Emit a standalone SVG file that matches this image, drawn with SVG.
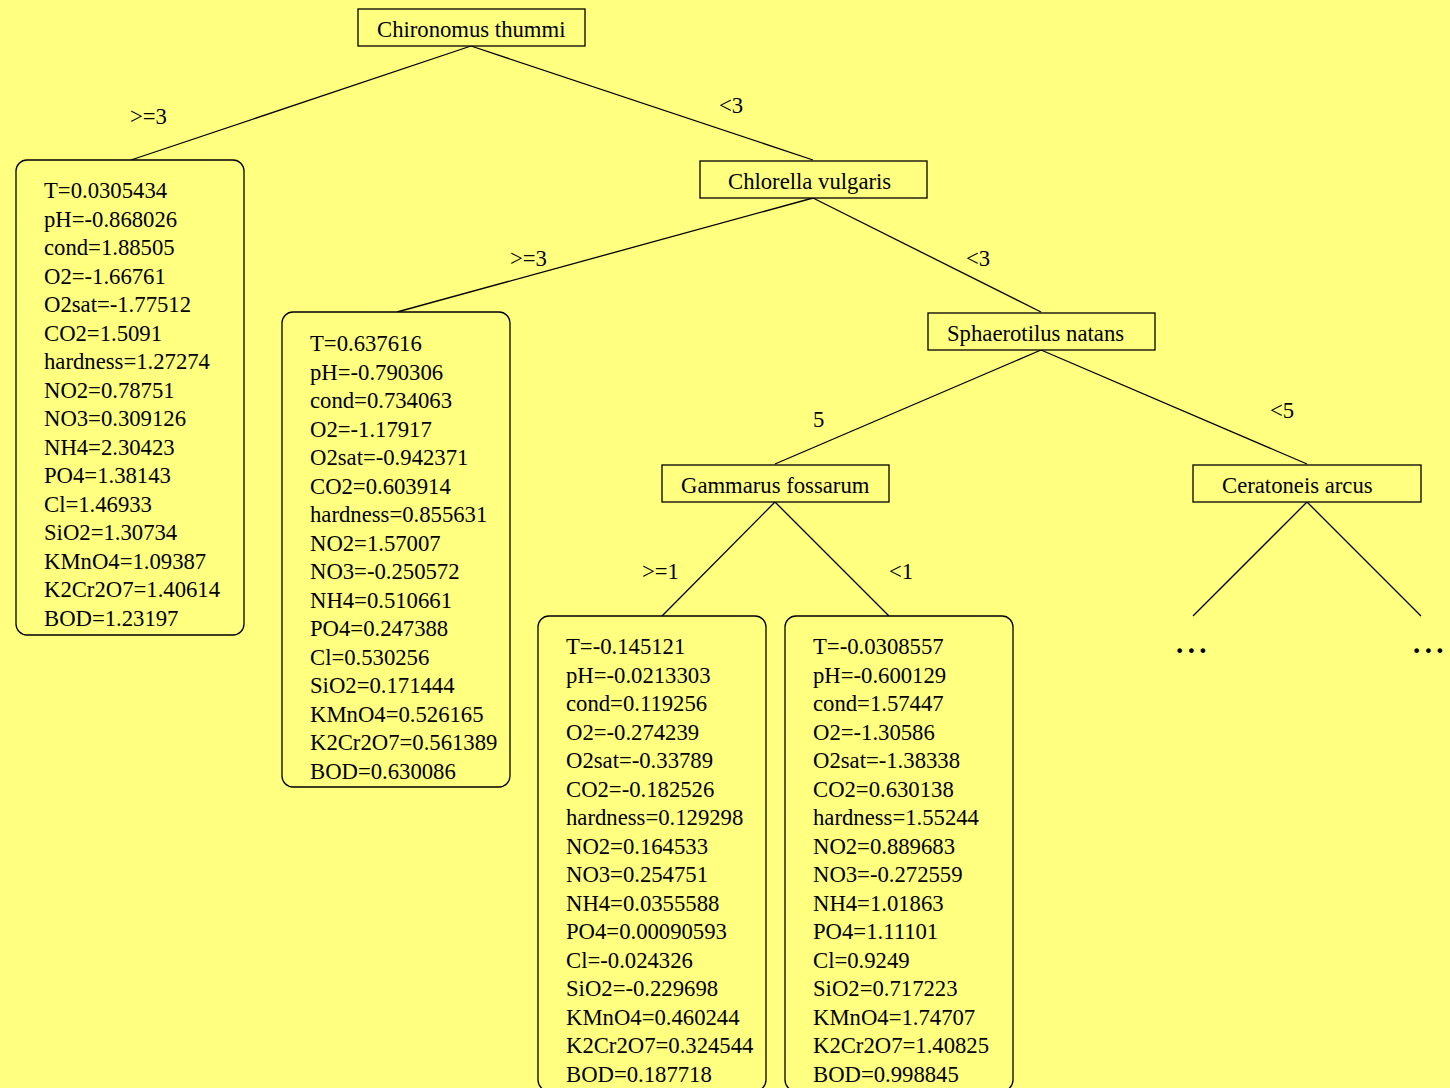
<svg xmlns="http://www.w3.org/2000/svg" width="1450" height="1088" viewBox="0 0 1450 1088">
<style>
text{font-family:"Liberation Serif","Times New Roman",serif;font-size:22.7px;fill:#000}
.nb{fill:#ffff80;stroke:#000;stroke-width:1.3}
.lf{fill:#ffff80;stroke:#000;stroke-width:1.3}
.e{stroke:#000;stroke-width:1.3;fill:none}
.dots{font-weight:bold;font-size:29px;letter-spacing:4.4px}
</style>
<rect width="1450" height="1088" fill="#ffff80"/>
<g id="connectors">
<line class="e" x1="471" y1="46" x2="131" y2="160"/>
<line class="e" x1="471" y1="46" x2="813" y2="160"/>
<line class="e" x1="813" y1="198" x2="397" y2="312"/>
<line class="e" x1="813" y1="198" x2="1041" y2="312"/>
<line class="e" x1="1041" y1="350" x2="775" y2="464"/>
<line class="e" x1="1041" y1="350" x2="1307" y2="464"/>
<line class="e" x1="775" y1="502" x2="662" y2="616"/>
<line class="e" x1="775" y1="502" x2="889" y2="616"/>
<line class="e" x1="1307" y1="502" x2="1193" y2="616"/>
<line class="e" x1="1307" y1="502" x2="1421" y2="616"/>
<text x="130" y="124">&gt;=3</text>
<text x="719" y="113">&lt;3</text>
<text x="510" y="266">&gt;=3</text>
<text x="966" y="266">&lt;3</text>
<text x="813" y="427">5</text>
<text x="1270" y="418">&lt;5</text>
<text x="642" y="579">&gt;=1</text>
<text x="889" y="579">&lt;1</text>
</g>
<g id="n-chironomus">
<rect class="nb" x="358" y="9" width="227" height="37"/>
<text x="377" y="37">Chironomus thummi</text>
</g>
<g id="n-chlorella">
<rect class="nb" x="700" y="161" width="227" height="37"/>
<text x="728" y="189">Chlorella vulgaris</text>
</g>
<g id="n-sphaerotilus">
<rect class="nb" x="928" y="313" width="227" height="37"/>
<text x="947" y="341">Sphaerotilus natans</text>
</g>
<g id="n-gammarus">
<rect class="nb" x="662" y="465" width="227" height="37"/>
<text x="681" y="493">Gammarus fossarum</text>
</g>
<g id="n-ceratoneis">
<rect class="nb" x="1193" y="465" width="228" height="37"/>
<text x="1222" y="493">Ceratoneis arcus</text>
</g>
<g id="leaf1">
<rect class="lf" x="16" y="160" width="228" height="475" rx="11"/>
<text x="44" y="198"><tspan x="44">T=0.0305434</tspan><tspan x="44" dy="28.53">pH=-0.868026</tspan><tspan x="44" dy="28.53">cond=1.88505</tspan><tspan x="44" dy="28.53">O2=-1.66761</tspan><tspan x="44" dy="28.53">O2sat=-1.77512</tspan><tspan x="44" dy="28.53">CO2=1.5091</tspan><tspan x="44" dy="28.53">hardness=1.27274</tspan><tspan x="44" dy="28.53">NO2=0.78751</tspan><tspan x="44" dy="28.53">NO3=0.309126</tspan><tspan x="44" dy="28.53">NH4=2.30423</tspan><tspan x="44" dy="28.53">PO4=1.38143</tspan><tspan x="44" dy="28.53">Cl=1.46933</tspan><tspan x="44" dy="28.53">SiO2=1.30734</tspan><tspan x="44" dy="28.53">KMnO4=1.09387</tspan><tspan x="44" dy="28.53">K2Cr2O7=1.40614</tspan><tspan x="44" dy="28.53">BOD=1.23197</tspan></text>
</g>
<g id="leaf2">
<rect class="lf" x="282" y="312" width="228" height="475" rx="11"/>
<text x="310" y="351"><tspan x="310">T=0.637616</tspan><tspan x="310" dy="28.53">pH=-0.790306</tspan><tspan x="310" dy="28.53">cond=0.734063</tspan><tspan x="310" dy="28.53">O2=-1.17917</tspan><tspan x="310" dy="28.53">O2sat=-0.942371</tspan><tspan x="310" dy="28.53">CO2=0.603914</tspan><tspan x="310" dy="28.53">hardness=0.855631</tspan><tspan x="310" dy="28.53">NO2=1.57007</tspan><tspan x="310" dy="28.53">NO3=-0.250572</tspan><tspan x="310" dy="28.53">NH4=0.510661</tspan><tspan x="310" dy="28.53">PO4=0.247388</tspan><tspan x="310" dy="28.53">Cl=0.530256</tspan><tspan x="310" dy="28.53">SiO2=0.171444</tspan><tspan x="310" dy="28.53">KMnO4=0.526165</tspan><tspan x="310" dy="28.53">K2Cr2O7=0.561389</tspan><tspan x="310" dy="28.53">BOD=0.630086</tspan></text>
</g>
<g id="leaf3">
<rect class="lf" x="538" y="616" width="228" height="475" rx="11"/>
<text x="566" y="654"><tspan x="566">T=-0.145121</tspan><tspan x="566" dy="28.53">pH=-0.0213303</tspan><tspan x="566" dy="28.53">cond=0.119256</tspan><tspan x="566" dy="28.53">O2=-0.274239</tspan><tspan x="566" dy="28.53">O2sat=-0.33789</tspan><tspan x="566" dy="28.53">CO2=-0.182526</tspan><tspan x="566" dy="28.53">hardness=0.129298</tspan><tspan x="566" dy="28.53">NO2=0.164533</tspan><tspan x="566" dy="28.53">NO3=0.254751</tspan><tspan x="566" dy="28.53">NH4=0.0355588</tspan><tspan x="566" dy="28.53">PO4=0.00090593</tspan><tspan x="566" dy="28.53">Cl=-0.024326</tspan><tspan x="566" dy="28.53">SiO2=-0.229698</tspan><tspan x="566" dy="28.53">KMnO4=0.460244</tspan><tspan x="566" dy="28.53">K2Cr2O7=0.324544</tspan><tspan x="566" dy="28.53">BOD=0.187718</tspan></text>
</g>
<g id="leaf4">
<rect class="lf" x="785" y="616" width="228" height="475" rx="11"/>
<text x="813" y="654"><tspan x="813">T=-0.0308557</tspan><tspan x="813" dy="28.53">pH=-0.600129</tspan><tspan x="813" dy="28.53">cond=1.57447</tspan><tspan x="813" dy="28.53">O2=-1.30586</tspan><tspan x="813" dy="28.53">O2sat=-1.38338</tspan><tspan x="813" dy="28.53">CO2=0.630138</tspan><tspan x="813" dy="28.53">hardness=1.55244</tspan><tspan x="813" dy="28.53">NO2=0.889683</tspan><tspan x="813" dy="28.53">NO3=-0.272559</tspan><tspan x="813" dy="28.53">NH4=1.01863</tspan><tspan x="813" dy="28.53">PO4=1.11101</tspan><tspan x="813" dy="28.53">Cl=0.9249</tspan><tspan x="813" dy="28.53">SiO2=0.717223</tspan><tspan x="813" dy="28.53">KMnO4=1.74707</tspan><tspan x="813" dy="28.53">K2Cr2O7=1.40825</tspan><tspan x="813" dy="28.53">BOD=0.998845</tspan></text>
</g>
<g id="more-left">
<text class="dots" x="1176" y="653">...</text>
</g>
<g id="more-right">
<text class="dots" x="1413" y="653">...</text>
</g>
</svg>
